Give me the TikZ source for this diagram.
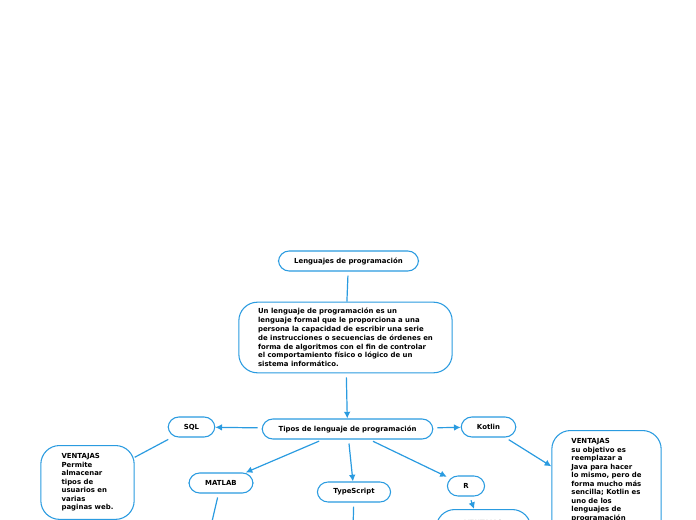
\documentclass[tikz,border=0pt]{standalone}
\usepackage{fontspec}
\setmainfont{DejaVu Sans}
\usetikzlibrary{arrows.meta}
\definecolor{mapblue}{HTML}{2A9BE0}
\tikzset{
  box/.style={draw=mapblue, line width=0.8pt, rounded corners=8pt, fill=white,
    font=\fontsize{5.2}{6.6}\selectfont\bfseries, inner sep=0pt},
  note/.style={box, font=\fontsize{5.2}{6.4}\selectfont\bfseries, rounded corners=14pt, align=left, anchor=north, inner xsep=14pt, inner ysep=6pt},
  link/.style={draw=mapblue, line width=0.9pt, shorten <=3pt},
  arr/.style={link, -{Latex[length=5pt,width=5pt]}}
}
\begin{document}
\begin{tikzpicture}[x=0.75pt,y=-0.75pt]
  \useasboundingbox (0,0) rectangle (696,520);
  \clip (0,0) rectangle (696,520);
  \node[box, minimum width=105pt, minimum height=15pt] (title) at (348.5,261) {Lenguajes de programación};
  \node[box, rounded corners=14pt, minimum width=160pt, minimum height=53pt, align=left] (desc) at (345.5,337.5)
    {Un lenguaje de programación es un\\lenguaje formal que le proporciona a una\\persona la capacidad de escribir una serie\\de instrucciones o secuencias de órdenes en\\forma de algoritmos con el fin de controlar\\el comportamiento físico o lógico de un\\sistema informático.};
  \node[box, minimum width=128pt, minimum height=15pt] (tipos) at (347.5,429) {Tipos de lenguaje de programación};
  \node[box, minimum width=35pt, minimum height=15pt] (sql) at (191.5,427) {SQL};
  \node[box, minimum width=41pt, minimum height=15pt] (kotlin) at (488.5,427) {Kotlin};
  \node[box, minimum width=48pt, minimum height=15pt] (matlab) at (221,483) {MATLAB};
  \node[box, minimum width=55pt, minimum height=15pt] (typescript) at (354,492) {TypeScript};
  \node[box, minimum width=28pt, minimum height=15pt] (r) at (466,486) {R};
  \node[note, minimum width=70pt, minimum height=52pt] (sqlv) at (87.5,445)
    {VENTAJAS\\Permite\\almacenar\\tipos de\\usuarios en\\varias\\paginas web.};
  \node[note, minimum width=82pt] (kotlinv) at (606.5,430)
    {VENTAJAS\\su objetivo es\\reemplazar a\\Java para hacer\\lo mismo, pero de\\forma mucho más\\sencilla; Kotlin es\\uno de los\\lenguajes de\\programación\\\\\\\\\\};
  \node[note, minimum width=71pt, minimum height=40pt] (rv) at (483.5,509)
    {VENTAJAS\hspace{20pt}\\\\\\};
  \coordinate (matlabend) at (210,530);
  \coordinate (tsend) at (353,530);
  % connectors
  \draw[link] (title) -- (desc);
  \draw[arr] (desc) -- (tipos);
  \draw[arr] (tipos) -- (sql);
  \draw[arr] (tipos) -- (kotlin);
  \draw[link] (sql) -- (sqlv);
  \draw[arr] (kotlin) -- (kotlinv);
  \draw[arr] (tipos) -- (matlab);
  \draw[arr] (tipos) -- (typescript);
  \draw[arr] (tipos) -- (r);
  \draw[arr] (r) -- (rv);
  \draw[link] (matlab) -- (matlabend);
  \draw[arr] (typescript) -- (tsend);
\end{tikzpicture}
\end{document}
